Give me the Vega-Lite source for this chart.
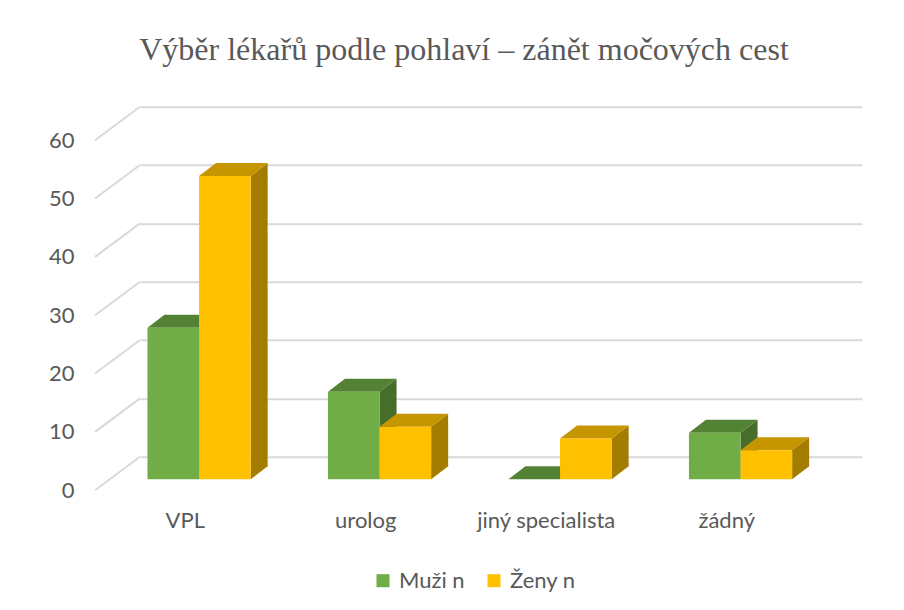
{
  "$schema": "https://vega.github.io/schema/vega-lite/v6.json",
  "autosize": {"type": "none"},
  "padding": {"left": 140, "top": 106.7, "right": 42, "bottom": 153.3},
  "width": 722,
  "height": 350,
  "background": "white",
  "title": {
    "text": "Výběr lékařů podle pohlaví – zánět močových cest",
    "font": "Liberation Serif",
    "fontSize": 32,
    "fontWeight": "normal",
    "color": "#595959",
    "anchor": "middle",
    "baseline": "alphabetic",
    "offset": 14,
    "dx": -37
  },
  "datasets": {
    "bars": [
      {"cat": "VPL", "s": "Muži n", "v": 26},
      {"cat": "VPL", "s": "Ženy n", "v": 52},
      {"cat": "urolog", "s": "Muži n", "v": 15},
      {"cat": "urolog", "s": "Ženy n", "v": 9},
      {"cat": "jiný specialista", "s": "Muži n", "v": 0},
      {"cat": "jiný specialista", "s": "Ženy n", "v": 7},
      {"cat": "žádný", "s": "Muži n", "v": 8},
      {"cat": "žádný", "s": "Ženy n", "v": 5}
    ],
    "ticks": [{"t": 0}, {"t": 10}, {"t": 20}, {"t": 30}, {"t": 40}, {"t": 50}, {"t": 60}]
  },
  "data": {"name": "bars"},
  "encoding": {
    "x": {
      "field": "cat", "type": "nominal", "sort": null,
      "scale": {"domain": ["VPL", "urolog", "jiný specialista", "žádný"], "paddingInner": 0, "paddingOuter": 0},
      "axis": {"title": null, "domain": false, "ticks": false, "labelAngle": 0,
        "labelFont": "Lato", "labelFontSize": 22, "labelColor": "#595959",
        "labelBaseline": "alphabetic", "labelPadding": 71, "labelOffset": -45, "grid": false}
    }
  },
  "layer": [
    {
      "data": {"name": "ticks"},
      "mark": {"type": "rule", "color": "#d9d9d9", "strokeWidth": 2, "xOffset": -45, "yOffset": 33.5},
      "encoding": {
        "x": {"datum": "VPL", "type": "nominal", "bandPosition": 0},
        "x2": {"datum": "VPL", "bandPosition": 0},
        "y": {"field": "t", "type": "quantitative",
          "scale": {"domain": [0, 60], "nice": false},
          "axis": {"title": null, "domain": false, "ticks": false, "values": [0, 10, 20, 30, 40, 50, 60],
            "labelFont": "Lato", "labelFontSize": 22, "labelColor": "#595959",
            "labelPadding": 66, "labelOffset": 33.5,
            "grid": true, "gridColor": "#d9d9d9", "gridWidth": 2}},
        "y2": {"field": "t"}
      }
    },
    {
      "transform": [{"filter": "datum.s === 'Muži n' && datum.v > 0"}],
      "mark": {"type": "bar", "width": 17, "xOffset": -22.7, "yOffset": 22.6, "y2Offset": 9.6, "color": "#476D2C"},
      "encoding": {"y": {"field": "v", "type": "quantitative"}, "y2": {"datum": 0}}
    },
    {
      "transform": [{"filter": "datum.s === 'Muži n' && datum.v > 0"}],
      "mark": {"type": "point", "shape": "M0,1L0,0L17,-13L17,1Z", "size": 4, "filled": true, "opacity": 1, "strokeWidth": 0, "xOffset": -31.2, "yOffset": 22.6, "color": "#476D2C"},
      "encoding": {"y": {"field": "v", "type": "quantitative"}}
    },
    {
      "transform": [{"filter": "datum.s === 'Muži n' && datum.v > 0"}],
      "mark": {"type": "point", "shape": "M0,-14L0,0L17,-13L17,-14Z", "size": 4, "filled": true, "opacity": 1, "strokeWidth": 0, "xOffset": -31.2, "yOffset": 22.6, "color": "#476D2C"},
      "encoding": {"y": {"datum": 0, "type": "quantitative"}}
    },
    {
      "transform": [{"filter": "datum.s === 'Ženy n' && datum.v > 0"}],
      "mark": {"type": "bar", "width": 17, "xOffset": 28.9, "yOffset": 22.6, "y2Offset": 9.6, "color": "#A47C00"},
      "encoding": {"y": {"field": "v", "type": "quantitative"}, "y2": {"datum": 0}}
    },
    {
      "transform": [{"filter": "datum.s === 'Ženy n' && datum.v > 0"}],
      "mark": {"type": "point", "shape": "M0,1L0,0L17,-13L17,1Z", "size": 4, "filled": true, "opacity": 1, "strokeWidth": 0, "xOffset": 20.4, "yOffset": 22.6, "color": "#A47C00"},
      "encoding": {"y": {"field": "v", "type": "quantitative"}}
    },
    {
      "transform": [{"filter": "datum.s === 'Ženy n' && datum.v > 0"}],
      "mark": {"type": "point", "shape": "M0,-14L0,0L17,-13L17,-14Z", "size": 4, "filled": true, "opacity": 1, "strokeWidth": 0, "xOffset": 20.4, "yOffset": 22.6, "color": "#A47C00"},
      "encoding": {"y": {"datum": 0, "type": "quantitative"}}
    },
    {
      "transform": [{"filter": "datum.s === 'Muži n'"}],
      "mark": {"type": "point", "shape": "M0,0L51.6,0L68.6,-13L17,-13Z", "size": 4, "filled": true, "opacity": 1, "strokeWidth": 0, "xOffset": -82.8, "yOffset": 22.6, "color": "#548235"},
      "encoding": {"y": {"field": "v", "type": "quantitative"}}
    },
    {
      "transform": [{"filter": "datum.s === 'Ženy n'"}],
      "mark": {"type": "point", "shape": "M0,0L51.6,0L68.6,-13L17,-13Z", "size": 4, "filled": true, "opacity": 1, "strokeWidth": 0, "xOffset": -31.2, "yOffset": 22.6, "color": "#C69600"},
      "encoding": {"y": {"field": "v", "type": "quantitative"}}
    },
    {
      "transform": [{"filter": "datum.s === 'Muži n'"}],
      "mark": {"type": "bar", "width": 51.6, "xOffset": -57, "yOffset": 22.6, "y2Offset": 22.6},
      "encoding": {
        "y": {"field": "v", "type": "quantitative"},
        "y2": {"datum": 0},
        "color": {"field": "s", "type": "nominal",
          "scale": {"domain": ["Muži n", "Ženy n"], "range": ["#70AD47", "#FFC000"]},
          "legend": {"title": null, "orient": "none", "direction": "horizontal", "legendX": 232, "legendY": 463,
            "symbolType": "square", "symbolSize": 169, "symbolStrokeWidth": 0,
            "labelFont": "Lato", "labelFontSize": 22, "labelColor": "#595959", "labelOffset": 5, "columnPadding": 18}}
      }
    },
    {
      "transform": [{"filter": "datum.s === 'Ženy n'"}],
      "mark": {"type": "bar", "width": 51.6, "xOffset": -5.4, "yOffset": 22.6, "y2Offset": 22.6},
      "encoding": {
        "y": {"field": "v", "type": "quantitative"},
        "y2": {"datum": 0},
        "color": {"field": "s", "type": "nominal"}
      }
    }
  ],
  "config": {"view": {"stroke": null}}
}
